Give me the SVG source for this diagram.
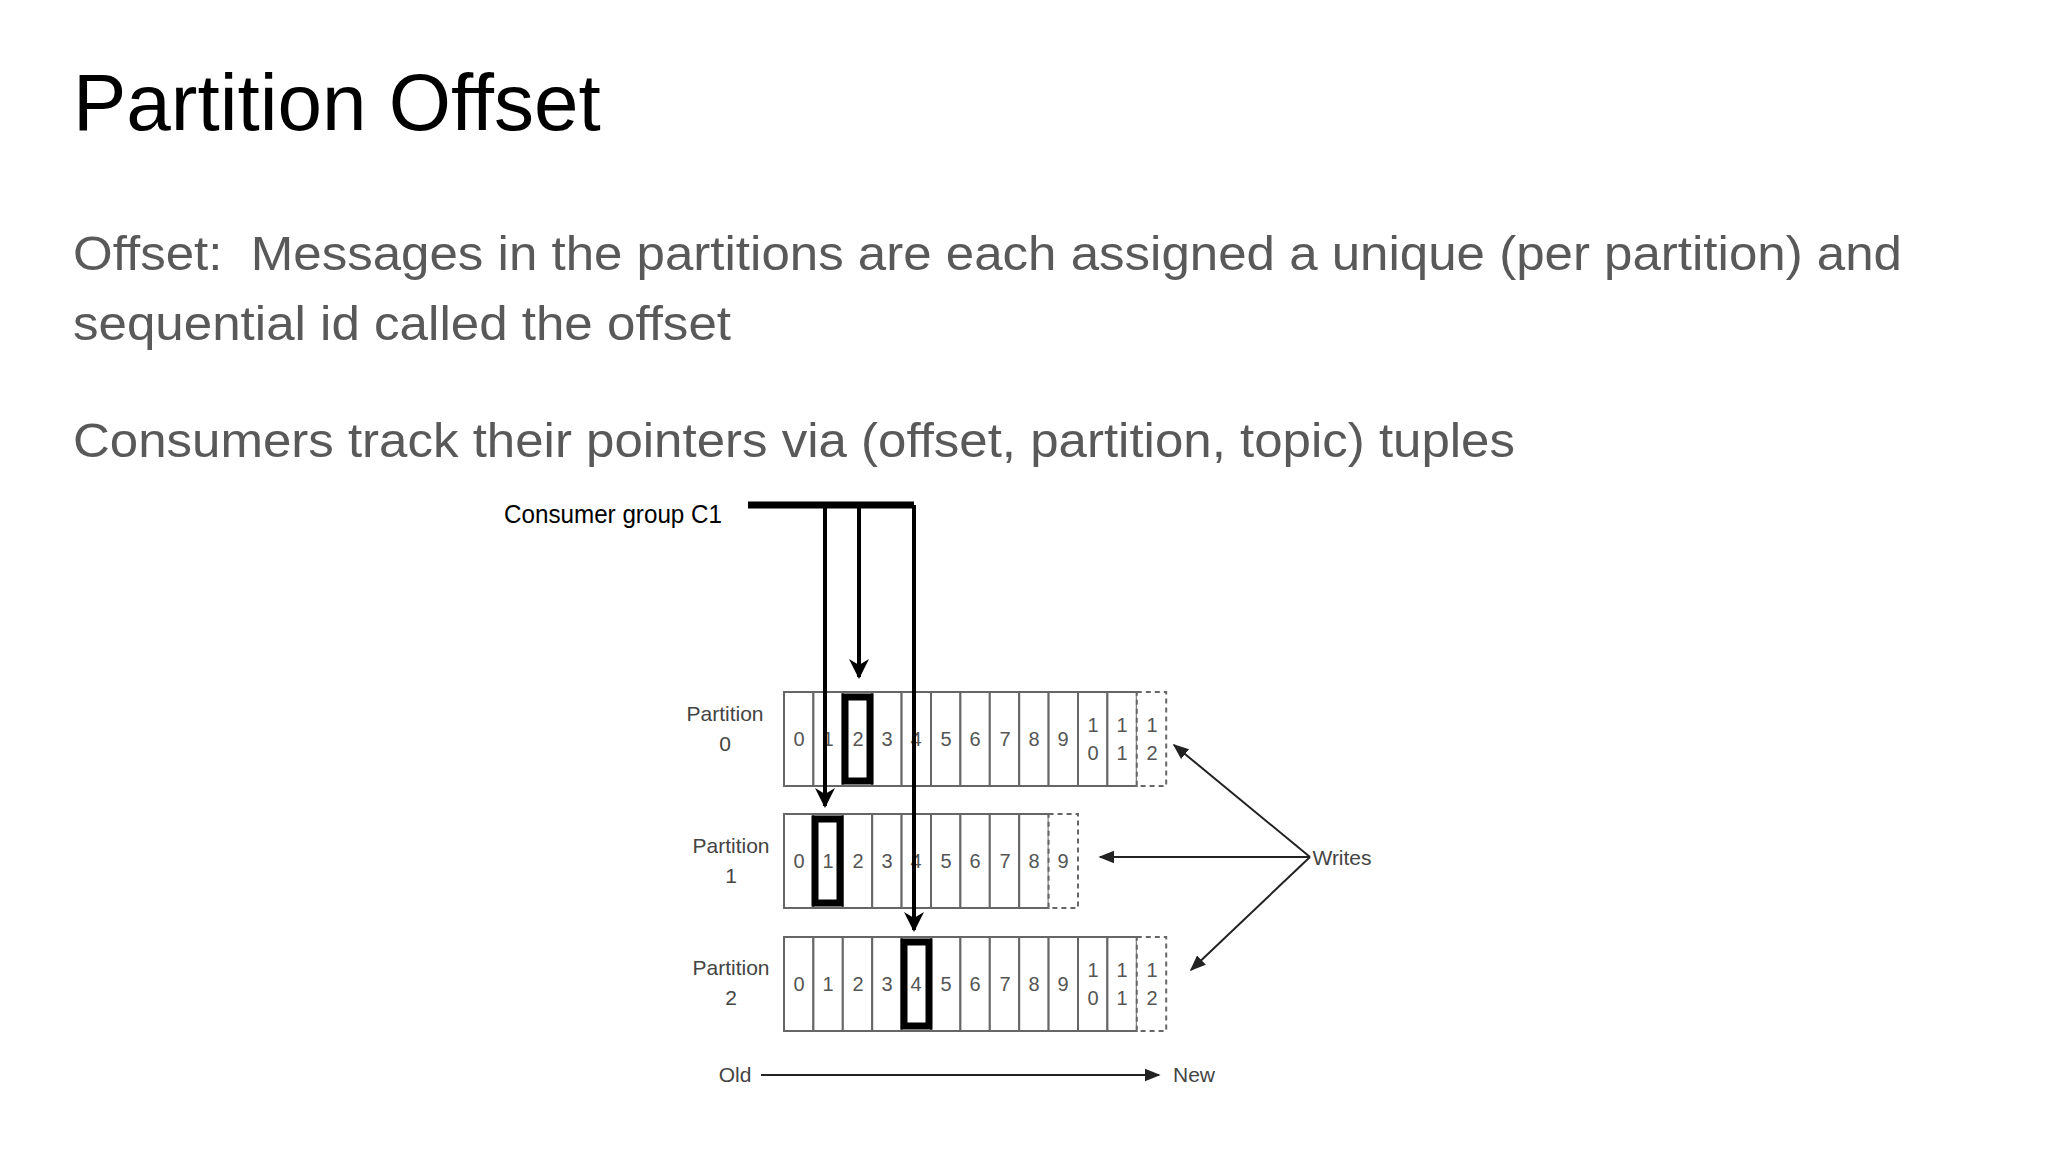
<svg xmlns="http://www.w3.org/2000/svg" width="2048" height="1152" viewBox="0 0 2048 1152">
<defs>
<style>
.t{font-family:"Liberation Sans",Arial,sans-serif}
.b{fill:#595959;font-size:49px}
.c{fill:#fff;stroke:#666;stroke-width:2}
.d{fill:#fff;stroke:#666;stroke-width:2;stroke-dasharray:5,4}
.n{font-family:"Liberation Sans",Arial,sans-serif;font-size:20px;fill:#555;text-anchor:middle}
.l{font-family:"Liberation Sans",Arial,sans-serif;font-size:21px;fill:#444;text-anchor:middle}
.h{fill:none;stroke:#000;stroke-width:7}
</style>
<marker id="a" viewBox="0 0 10 10" refX="9" refY="5" markerWidth="5" markerHeight="6" orient="auto-start-reverse" markerUnits="strokeWidth"><path d="M0,0L10,5L0,10L3,5z" fill="#000"/></marker>
<marker id="s" viewBox="0 0 10 10" refX="9" refY="5" markerWidth="8" markerHeight="8" orient="auto"><path d="M0,1L10,5L0,9z" fill="#222"/></marker>
</defs>
<rect width="2048" height="1152" fill="#fff"/>
<text class="t" x="73" y="130" font-size="80" fill="#000">Partition Offset</text>
<text class="t b" x="73" y="270" textLength="1829" lengthAdjust="spacingAndGlyphs">Offset:&#160; Messages in the partitions are each assigned a unique (per partition) and</text>
<text class="t b" x="73" y="340" textLength="658" lengthAdjust="spacingAndGlyphs">sequential id called the offset</text>
<text class="t b" x="73" y="457" textLength="1442" lengthAdjust="spacingAndGlyphs">Consumers track their pointers via (offset, partition, topic) tuples</text>

<g id="consumer"><text class="t" x="504" y="523" font-size="25" fill="#000" textLength="218" lengthAdjust="spacingAndGlyphs">Consumer group C1</text></g>

<g id="partition0">
<text class="l" x="725" y="721">Partition</text><text class="l" x="725" y="751">0</text>
<rect class="c" x="784" y="692" width="29.4" height="94"/><rect class="c" x="813.4" y="692" width="29.4" height="94"/><rect class="c" x="842.8" y="692" width="29.4" height="94"/><rect class="c" x="872.2" y="692" width="29.4" height="94"/><rect class="c" x="901.6" y="692" width="29.4" height="94"/><rect class="c" x="931" y="692" width="29.4" height="94"/><rect class="c" x="960.4" y="692" width="29.4" height="94"/><rect class="c" x="989.8" y="692" width="29.4" height="94"/><rect class="c" x="1019.2" y="692" width="29.4" height="94"/><rect class="c" x="1048.6" y="692" width="29.4" height="94"/><rect class="c" x="1078" y="692" width="29.4" height="94"/><rect class="c" x="1107.4" y="692" width="29.4" height="94"/><rect class="d" x="1136.8" y="692" width="29.4" height="94"/>
<text class="n" y="746"><tspan x="799">0</tspan><tspan x="828">1</tspan><tspan x="858">2</tspan><tspan x="887">3</tspan><tspan x="916">4</tspan><tspan x="946">5</tspan><tspan x="975">6</tspan><tspan x="1005">7</tspan><tspan x="1034">8</tspan><tspan x="1063">9</tspan></text>
<text class="n" y="732"><tspan x="1093">1</tspan><tspan x="1122">1</tspan><tspan x="1152">1</tspan></text>
<text class="n" y="760"><tspan x="1093">0</tspan><tspan x="1122">1</tspan><tspan x="1152">2</tspan></text>
<rect class="h" x="845" y="697" width="25" height="84"/>
</g>

<g id="partition1">
<text class="l" x="731" y="853">Partition</text><text class="l" x="731" y="883">1</text>
<rect class="c" x="784" y="814" width="29.4" height="94"/><rect class="c" x="813.4" y="814" width="29.4" height="94"/><rect class="c" x="842.8" y="814" width="29.4" height="94"/><rect class="c" x="872.2" y="814" width="29.4" height="94"/><rect class="c" x="901.6" y="814" width="29.4" height="94"/><rect class="c" x="931" y="814" width="29.4" height="94"/><rect class="c" x="960.4" y="814" width="29.4" height="94"/><rect class="c" x="989.8" y="814" width="29.4" height="94"/><rect class="c" x="1019.2" y="814" width="29.4" height="94"/><rect class="d" x="1048.6" y="814" width="29.4" height="94"/>
<text class="n" y="868"><tspan x="799">0</tspan><tspan x="828">1</tspan><tspan x="858">2</tspan><tspan x="887">3</tspan><tspan x="916">4</tspan><tspan x="946">5</tspan><tspan x="975">6</tspan><tspan x="1005">7</tspan><tspan x="1034">8</tspan><tspan x="1063">9</tspan></text>
<rect class="h" x="815" y="819" width="25" height="84"/>
</g>

<g id="partition2">
<text class="l" x="731" y="975">Partition</text><text class="l" x="731" y="1005">2</text>
<rect class="c" x="784" y="937" width="29.4" height="94"/><rect class="c" x="813.4" y="937" width="29.4" height="94"/><rect class="c" x="842.8" y="937" width="29.4" height="94"/><rect class="c" x="872.2" y="937" width="29.4" height="94"/><rect class="c" x="901.6" y="937" width="29.4" height="94"/><rect class="c" x="931" y="937" width="29.4" height="94"/><rect class="c" x="960.4" y="937" width="29.4" height="94"/><rect class="c" x="989.8" y="937" width="29.4" height="94"/><rect class="c" x="1019.2" y="937" width="29.4" height="94"/><rect class="c" x="1048.6" y="937" width="29.4" height="94"/><rect class="c" x="1078" y="937" width="29.4" height="94"/><rect class="c" x="1107.4" y="937" width="29.4" height="94"/><rect class="d" x="1136.8" y="937" width="29.4" height="94"/>
<text class="n" y="991"><tspan x="799">0</tspan><tspan x="828">1</tspan><tspan x="858">2</tspan><tspan x="887">3</tspan><tspan x="916">4</tspan><tspan x="946">5</tspan><tspan x="975">6</tspan><tspan x="1005">7</tspan><tspan x="1034">8</tspan><tspan x="1063">9</tspan></text>
<text class="n" y="977"><tspan x="1093">1</tspan><tspan x="1122">1</tspan><tspan x="1152">1</tspan></text>
<text class="n" y="1005"><tspan x="1093">0</tspan><tspan x="1122">1</tspan><tspan x="1152">2</tspan></text>
<rect class="h" x="904" y="942" width="25" height="84"/>
</g>

<g id="writes"><text class="l" x="1342" y="865">Writes</text></g>
<g id="old"><text class="l" x="735" y="1082">Old</text></g>
<g id="new"><text class="l" x="1194" y="1082">New</text></g>

<g id="connectors" fill="none">
<path d="M748,505H914" stroke="#000" stroke-width="7"/>
<path d="M825,505V806" stroke="#000" stroke-width="4" marker-end="url(#a)"/>
<path d="M859,505V677" stroke="#000" stroke-width="4" marker-end="url(#a)"/>
<path d="M914,505V930" stroke="#000" stroke-width="4" marker-end="url(#a)"/>
<path d="M1310,857L1174,745" stroke="#222" stroke-width="2" marker-end="url(#s)"/>
<path d="M1310,857H1100" stroke="#222" stroke-width="2" marker-end="url(#s)"/>
<path d="M1310,857L1191,970" stroke="#222" stroke-width="2" marker-end="url(#s)"/>
<path d="M761,1075H1159" stroke="#222" stroke-width="2" marker-end="url(#s)"/>
</g>
</svg>
